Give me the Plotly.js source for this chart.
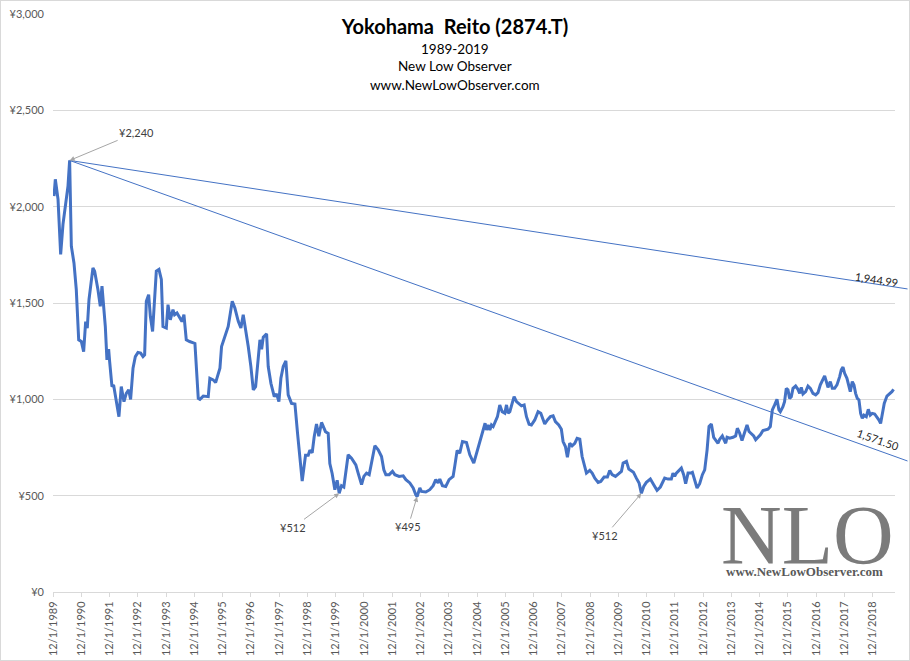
<!DOCTYPE html>
<html>
<head>
<meta charset="utf-8">
<script src="https://cdn.plot.ly/plotly-3.0.1.min.js"></script>
<style>
  body { margin: 0; background: #fff; }
  #chart { width: 908px; height: 659px; border: 1px solid #d9d9d9; }
</style>
</head>
<body>
<div id="chart"></div>
<script>
// monthly-ish closes, x as decimal years
var priceYears = [
  1989.952, 1989.999, 1990.094, 1990.188, 1990.271, 1990.388, 1990.447, 1990.506, 1990.565, 1990.660,
  1990.742, 1990.825, 1990.919, 1991.001, 1991.072, 1991.131, 1991.190, 1991.331, 1991.390, 1991.508,
  1991.591, 1991.650, 1991.685, 1991.768, 1991.827, 1991.886, 1991.921, 1992.003, 1992.062, 1992.157,
  1992.251, 1992.333, 1992.428, 1992.510, 1992.593, 1992.663, 1992.746, 1992.828, 1992.923, 1993.017,
  1993.099, 1993.158, 1993.217, 1993.300, 1993.359, 1993.441, 1993.512, 1993.571, 1993.665, 1993.748,
  1993.807, 1993.925, 1993.984, 1994.066, 1994.160, 1994.219, 1994.302, 1994.396, 1994.479, 1994.549,
  1994.632, 1994.750, 1994.938, 1995.056, 1995.115, 1995.233, 1995.410, 1995.468, 1995.586, 1995.669,
  1995.822, 1995.881, 1995.999, 1996.117, 1996.258, 1996.352, 1996.470, 1996.565, 1996.647, 1996.706,
  1996.824, 1996.918, 1997.001, 1997.083, 1997.178, 1997.236, 1997.296, 1997.355, 1997.473, 1997.531,
  1997.625, 1997.743, 1997.826, 1997.908, 1997.979, 1998.061, 1998.156, 1998.238, 1998.356, 1998.474,
  1998.569, 1998.651, 1998.734, 1998.852, 1998.946, 1999.005, 1999.087, 1999.158, 1999.240, 1999.322,
  1999.417, 1999.558, 1999.653, 1999.712, 1999.794, 1999.889, 1999.971, 2000.042, 2000.124, 2000.206,
  2000.360, 2000.478, 2000.631, 2000.713, 2000.831, 2000.914, 2001.008, 2001.102, 2001.185, 2001.303,
  2001.420, 2001.538, 2001.621, 2001.691, 2001.809, 2001.927, 2002.010, 2002.163, 2002.305, 2002.400,
  2002.540, 2002.658, 2002.752, 2002.800, 2002.894, 2002.953, 2003.106, 2003.247, 2003.365, 2003.459,
  2003.542, 2003.601, 2003.695, 2003.813, 2003.931, 2004.072, 2004.131, 2004.214, 2004.308, 2004.403,
  2004.544, 2004.662, 2004.803, 2004.921, 2005.074, 2005.200, 2005.252, 2005.311, 2005.370, 2005.430,
  2005.488, 2005.570, 2005.640, 2005.723, 2005.806, 2005.900, 2005.959, 2006.018, 2006.077, 2006.160,
  2006.230, 2006.313, 2006.395, 2006.490, 2006.584, 2006.666, 2006.760, 2006.843, 2006.961, 2007.079,
  2007.173, 2007.256, 2007.315, 2007.409, 2007.515, 2007.609, 2007.692, 2007.810, 2007.904, 2007.963,
  2008.045, 2008.116, 2008.199, 2008.281, 2008.375, 2008.458, 2008.552, 2008.635, 2008.706, 2008.788,
  2008.906, 2008.990, 2009.083, 2009.200, 2009.295, 2009.413, 2009.531, 2009.613, 2009.696, 2009.814,
  2009.932, 2010.026, 2010.085, 2010.203, 2010.285, 2010.380, 2010.450, 2010.556, 2010.650, 2010.733,
  2010.815, 2010.909, 2011.051, 2011.169, 2011.287, 2011.404, 2011.499, 2011.558, 2011.676, 2011.793,
  2011.852, 2011.911, 2011.970, 2012.064, 2012.147, 2012.229, 2012.300, 2012.383, 2012.477, 2012.536,
  2012.618, 2012.701, 2012.795, 2012.890, 2012.972, 2013.055, 2013.125, 2013.208, 2013.290, 2013.361,
  2013.443, 2013.503, 2013.597, 2013.656, 2013.715, 2013.762, 2013.856, 2013.974, 2014.068, 2014.127,
  2014.209, 2014.292, 2014.386, 2014.469, 2014.540, 2014.622, 2014.705, 2014.776, 2014.858, 2014.940,
  2015.035, 2015.129, 2015.211, 2015.294, 2015.365, 2015.447, 2015.530, 2015.600, 2015.648, 2015.742,
  2015.800, 2015.860, 2015.919, 2015.978, 2016.037, 2016.096, 2016.190, 2016.273, 2016.331, 2016.390,
  2016.450, 2016.544, 2016.626, 2016.709, 2016.803, 2016.897, 2016.980, 2017.062, 2017.157, 2017.215,
  2017.274, 2017.333, 2017.416, 2017.486, 2017.569, 2017.652, 2017.746, 2017.805, 2017.864, 2017.923,
  2018.005, 2018.076, 2018.123, 2018.194, 2018.253, 2018.312, 2018.371, 2018.430, 2018.488, 2018.547,
  2018.606, 2018.689, 2018.760, 2018.830, 2018.900, 2018.984, 2019.066, 2019.137, 2019.196, 2019.255,
  2019.326, 2019.420, 2019.514, 2019.597, 2019.656
];
var priceValues = [
  2055, 2142, 2038, 1752, 1908, 2038, 2108, 2240, 1795, 1708,
  1569, 1309, 1300, 1248, 1404, 1370, 1517, 1682, 1665, 1569,
  1483, 1587, 1535, 1378, 1205, 1260, 1196, 1066, 1075, 979,
  910, 1066, 988, 1031, 1049, 1000, 1162, 1222, 1243, 1240,
  1222, 1231, 1509, 1543, 1431, 1352, 1552, 1665, 1674, 1622,
  1378, 1370, 1491, 1413, 1465, 1439, 1448, 1422, 1404, 1439,
  1309, 1300, 1290, 1005, 1000, 1017, 1014, 1109, 1101, 1087,
  1161, 1274, 1326, 1378, 1509, 1474, 1405, 1370, 1439, 1387,
  1274, 1170, 1049, 1066, 1205, 1309, 1260, 1323, 1340, 1170,
  1083, 1014, 1028, 988, 1109, 1170, 1200, 1023, 979, 976,
  823, 701, 576, 710, 710, 736, 722, 806, 872, 809,
  880, 832, 823, 667, 615, 531, 580, 512, 552, 545,
  712, 695, 660, 617, 557, 600, 617, 609, 678, 759,
  738, 703, 634, 609, 609, 626, 609, 600, 603, 583,
  566, 540, 505, 495, 540, 522, 519, 531, 552, 583,
  566, 586, 552, 548, 583, 600, 652, 734, 721, 781,
  776, 712, 669, 729, 816, 876, 841, 867, 841, 867,
  859, 884, 910, 971, 936, 928, 971, 928, 936, 979,
  1014, 988, 976, 966, 971, 910, 871, 867, 893, 936,
  928, 893, 872, 893, 910, 914, 884, 867, 845, 781,
  755, 700, 772, 759, 772, 798, 793, 703, 655, 617,
  631, 617, 591, 569, 574, 597, 597, 631, 609, 600,
  614, 626, 669, 678, 638, 631, 622, 591, 566, 512,
  548, 569, 586, 557, 528, 545, 574, 591, 586, 586,
  617, 600, 617, 634, 643, 609, 562, 617, 617, 621,
  574, 540, 562, 609, 634, 738, 859, 872, 803, 790,
  772, 793, 810, 790, 772, 803, 798, 803, 810, 850,
  824, 786, 833, 867, 833, 821, 810, 790, 803, 816,
  838, 841, 845, 859, 945, 971, 1000, 945, 936, 962,
  988, 1057, 1049, 1005, 1014, 1057, 1069, 1052, 1031, 1062,
  1028, 1040, 1069, 1057, 1031, 1023, 1035, 1075, 1101, 1122,
  1092, 1062, 1092, 1057, 1057, 1075, 1118, 1153, 1167, 1135,
  1109, 1075, 1040, 1092, 1075, 1031, 1005, 997, 927, 901,
  918, 910, 948, 918, 927, 924, 910, 892, 875, 927,
  979, 1017, 1028, 1040, 1052
];

var tickLabels = [
  '12/1/1989', '12/1/1990', '12/1/1991', '12/1/1992', '12/1/1993', '12/1/1994',
  '12/1/1995', '12/1/1996', '12/1/1997', '12/1/1998', '12/1/1999', '12/1/2000',
  '12/1/2001', '12/1/2002', '12/1/2003', '12/1/2004', '12/1/2005', '12/1/2006',
  '12/1/2007', '12/1/2008', '12/1/2009', '12/1/2010', '12/1/2011', '12/1/2012',
  '12/1/2013', '12/1/2014', '12/1/2015', '12/1/2016', '12/1/2017', '12/1/2018'
];

// high and lows called out on the chart
var markYears = [1990.506, 2000.042, 2002.800, 2010.733];
var markValues = [2240, 512, 495, 512];
var markLabels = ['¥2,240', '¥512', '¥495', '¥512'];

// two lines drawn down from the 1990 high
var trendEndYear = 2020.15;
var trendEndValues = [1573, 680];
var trendLabels = ['1,944.99', '1,571.50'];

var subtitleLines = ['1989-2019', 'New Low Observer', 'www.NewLowObserver.com'];

function yearToDate(y) {
    var yr = Math.floor(y);
    var a = Date.UTC(yr, 0, 1), b = Date.UTC(yr + 1, 0, 1);
    return new Date(a + (y - yr) * (b - a)).toISOString().slice(0, 10);
}
function labelToDate(s) {
    var p = s.split('/');
    return p[2] + '-' + ('0' + p[0]).slice(-2) + '-' + ('0' + p[1]).slice(-2);
}
function msToStr(ms) {
    return new Date(ms).toISOString().replace('T', ' ').slice(0, 19);
}

var blue = '#4472C4';
var grid = '#d9d9d9';

// main axis stops at the gridlines, trend lines run on to the chart edge
var xStart = '1989-12-01', xEnd = '2019-09-15';
var mainDomain = 842 / 855;
var r0 = Date.parse(xStart), r1 = Date.parse(xEnd);
var x2End = msToStr(r0 + (r1 - r0) / mainDomain);

var price = {
    x: priceYears.map(yearToDate),
    y: priceValues,
    type: 'scatter',
    mode: 'lines',
    line: {color: blue, width: 3},
    hoverinfo: 'skip',
    xaxis: 'x', yaxis: 'y'
};

var traces = [price];
trendEndValues.forEach(function (v) {
    traces.push({
        x: [yearToDate(markYears[0]), yearToDate(trendEndYear)],
        y: [markValues[0], v],
        type: 'scatter',
        mode: 'lines',
        line: {color: blue, width: 1},
        hoverinfo: 'skip',
        xaxis: 'x2', yaxis: 'y2'
    });
});

var labelOffsets = [[67, -28], [-46, 34], [-9, 30], [-36, 42]];
var annotations = [];
markLabels.forEach(function (t, i) {
    annotations.push({
        x: yearToDate(markYears[i]), y: markValues[i], xref: 'x', yref: 'y',
        text: t, showarrow: true,
        ax: labelOffsets[i][0], ay: labelOffsets[i][1],
        arrowhead: 2, arrowsize: 1, arrowwidth: 1, arrowcolor: '#a6a6a6', standoff: 0,
        font: {size: 11, color: '#404040'}
    });
});

var trendLabelPos = [[0.9637, 0.5415, 8.7], [0.9649, 0.263, 19.5]];
trendLabels.forEach(function (t, i) {
    annotations.push({
        x: trendLabelPos[i][0], y: trendLabelPos[i][1], xref: 'paper', yref: 'paper',
        xanchor: 'center', yanchor: 'middle',
        text: t, showarrow: false, textangle: trendLabelPos[i][2],
        font: {size: 11, color: '#262626'}
    });
});

var subY = [0.9403, 0.9092, 0.878];
subtitleLines.forEach(function (t, i) {
    annotations.push({
        x: 0.4702, y: subY[i], xref: 'paper', yref: 'paper',
        xanchor: 'center', yanchor: 'middle',
        text: t, showarrow: false,
        font: {size: 13.5, color: '#000'}
    });
});

// NLO watermark
annotations.push({
    x: 0.8825, y: 0.0969, xref: 'paper', yref: 'paper', text: 'NLO', showarrow: false,
    xanchor: 'center', yanchor: 'middle',
    font: {family: 'Liberation Serif, serif', size: 84, color: '#7b7b7b'}
});
annotations.push({
    x: 0.8795, y: 0.0355, xref: 'paper', yref: 'paper', text: '<b>www.NewLowObserver.com</b>',
    showarrow: false, xanchor: 'center', yanchor: 'middle',
    font: {family: 'Liberation Serif, serif', size: 13, color: '#595959'}
});

var layout = {
    width: 908,
    height: 659,
    margin: {l: 52, r: 1, t: 13, b: 68},
    paper_bgcolor: '#fff',
    plot_bgcolor: 'rgba(0,0,0,0)',
    showlegend: false,
    font: {family: 'Lato, sans-serif', size: 11, color: '#595959'},
    title: {
        text: '<b>Yokohama\u00a0 Reito (2874.T)</b>',
        font: {family: 'Lato, sans-serif', size: 20, color: '#000'},
        x: 0.5, xref: 'container', xanchor: 'center',
        y: 0.961, yref: 'container', yanchor: 'middle'
    },
    xaxis: {
        type: 'date',
        domain: [0, mainDomain],
        range: [xStart, xEnd],
        tickmode: 'array',
        tickvals: tickLabels.map(labelToDate),
        ticktext: tickLabels,
        tickangle: -90,
        ticks: 'outside', ticklen: 4, tickcolor: grid,
        showgrid: false, zeroline: false,
        showline: true, linecolor: grid, linewidth: 1,
        tickfont: {size: 11, color: '#595959'},
        anchor: 'y'
    },
    yaxis: {
        range: [0, 3000],
        dtick: 500,
        tickprefix: '¥',
        tickformat: ',d',
        showgrid: true, gridcolor: grid, gridwidth: 1,
        zeroline: false, showline: false, ticks: '',
        ticklabelstandoff: 8,
        tickfont: {size: 11, color: '#595959'},
        anchor: 'x'
    },
    xaxis2: {type: 'date', domain: [0, 1], range: [xStart, x2End], visible: false, anchor: 'y2'},
    yaxis2: {range: [0, 3000], domain: [0, 1], visible: false, anchor: 'x2'},
    annotations: annotations
};

Plotly.newPlot('chart', traces, layout, {displayModeBar: false, staticPlot: true});
</script>
</body>
</html>
